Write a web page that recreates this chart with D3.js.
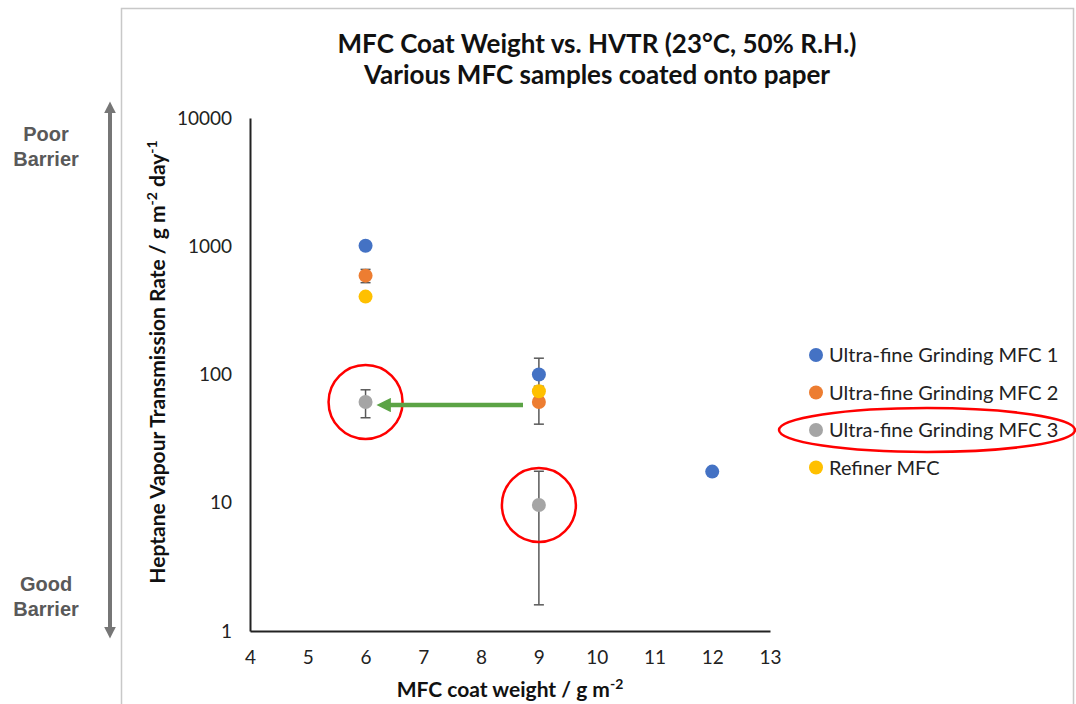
<!DOCTYPE html>
<html>
<head>
<meta charset="utf-8">
<script src="https://cdn.jsdelivr.net/npm/d3@7"></script>
<style>
  body { margin: 0; background: #fff; }
  svg { display: block; }
  .tick text { font-family: Lato, "Open Sans", sans-serif; font-size: 19px; fill: #222; }
</style>
</head>
<body>
<div id="chart"></div>
<script>
// Series names and colours
var seriesNames = ["Ultra-fine Grinding MFC 1", "Ultra-fine Grinding MFC 2", "Ultra-fine Grinding MFC 3", "Refiner MFC"]
var seriesColors = ["#4472C4", "#ED7D31", "#A5A5A5", "#FFC000"]

// Points: coat weight, HVTR, error (+/-)
var mfc1 = [{x: 6, y: 1010, err: 0}, {x: 9, y: 100, err: 34}, {x: 12, y: 17.5, err: 0}]
var mfc2 = [{x: 6, y: 590, err: 70}, {x: 9, y: 61, err: 20}]
var mfc3 = [{x: 6, y: 61, err: 15}, {x: 9, y: 9.6, err: 8}]
var refiner = [{x: 6, y: 405, err: 0}, {x: 9, y: 74, err: 0}]

var xTicks = [4, 5, 6, 7, 8, 9, 10, 11, 12, 13]
var yTicks = [1, 10, 100, 1000, 10000]

var W = 1076, H = 704
var margin = {left: 250, right: 306, top: 118, bottom: 73}

var svg = d3.select("#chart").append("svg")
  .attr("width", W)
  .attr("height", H)

// Frame of the chart area
svg.append("path")
  .attr("d", "M121.5,704 V8.5 H1073.5 V704")
  .attr("fill", "none")
  .attr("stroke", "#c8c8c8")
  .attr("stroke-width", 1.5)

// Scales
var xScale = d3.scaleLinear().domain([4, 13]).range([margin.left, W - margin.right])
var yScale = d3.scaleLog().domain([1, 10000]).range([H - margin.bottom, margin.top])

// Axes
var xAxis = svg.append("g")
  .attr("transform", `translate(0,${H - margin.bottom})`)
  .call(d3.axisBottom(xScale).tickValues(xTicks).tickSize(0).tickPadding(20).tickFormat(d3.format("d")))
xAxis.select(".domain").attr("stroke", "#222").attr("stroke-width", 2)

var yAxis = svg.append("g")
  .attr("transform", `translate(${margin.left},0)`)
  .call(d3.axisLeft(yScale).tickValues(yTicks).tickSize(0).tickPadding(18).tickFormat(d3.format("d")))
yAxis.select(".domain").attr("stroke", "#222").attr("stroke-width", 2)

// Titles
var titleFont = "Lato, 'Open Sans', sans-serif"
svg.append("text")
  .attr("x", 597).attr("y", 53)
  .attr("text-anchor", "middle")
  .attr("font-family", titleFont).attr("font-weight", "bold").attr("font-size", 26)
  .attr("fill", "#111")
  .text("MFC Coat Weight vs. HVTR (23°C, 50% R.H.)")
svg.append("text")
  .attr("x", 597).attr("y", 84)
  .attr("text-anchor", "middle")
  .attr("font-family", titleFont).attr("font-weight", "bold").attr("font-size", 26)
  .attr("fill", "#111")
  .text("Various MFC samples coated onto paper")

var xLabel = svg.append("text")
  .attr("x", 510).attr("y", 697)
  .attr("text-anchor", "middle")
  .attr("font-family", titleFont).attr("font-weight", "bold").attr("font-size", 21)
  .attr("fill", "#111")
xLabel.append("tspan").text("MFC coat weight / g m")
xLabel.append("tspan").attr("dy", -8).attr("font-size", 14).text("-2")

var yLabel = svg.append("text")
  .attr("transform", "translate(165,362) rotate(-90)")
  .attr("text-anchor", "middle")
  .attr("font-family", titleFont).attr("font-weight", "bold").attr("font-size", 21)
  .attr("fill", "#111")
yLabel.append("tspan").text("Heptane Vapour Transmission Rate / g m")
yLabel.append("tspan").attr("dy", -8).attr("font-size", 14).text("-2")
yLabel.append("tspan").attr("dy", 8).text(" day")
yLabel.append("tspan").attr("dy", -8).attr("font-size", 14).text("-1")

// Error bars and points
var allSeries = [mfc1, mfc2, mfc3, refiner]
var plot = svg.append("g").attr("class", "plot")

allSeries.forEach(function(data) {
  var errs = data.filter(d => d.err > 0)
  var eg = plot.append("g").selectAll("g").data(errs).enter().append("g")
    .attr("stroke", "#595959").attr("stroke-width", 1.5)
  eg.append("line")
    .attr("x1", d => xScale(d.x)).attr("x2", d => xScale(d.x))
    .attr("y1", d => yScale(d.y + d.err)).attr("y2", d => yScale(d.y - d.err))
  eg.append("line")
    .attr("x1", d => xScale(d.x) - 5).attr("x2", d => xScale(d.x) + 5)
    .attr("y1", d => yScale(d.y + d.err)).attr("y2", d => yScale(d.y + d.err))
  eg.append("line")
    .attr("x1", d => xScale(d.x) - 5).attr("x2", d => xScale(d.x) + 5)
    .attr("y1", d => yScale(d.y - d.err)).attr("y2", d => yScale(d.y - d.err))
})

allSeries.forEach(function(data, i) {
  plot.append("g").selectAll("circle").data(data).enter().append("circle")
    .attr("cx", d => xScale(d.x))
    .attr("cy", d => yScale(d.y))
    .attr("r", 7)
    .attr("fill", seriesColors[i])
})

// Legend
var legend = svg.append("g").attr("transform", "translate(816,355)")
var items = legend.selectAll("g").data(seriesNames).enter().append("g")
  .attr("transform", (d, i) => `translate(0,${i * 37.5})`)
items.append("circle").attr("r", 7).attr("fill", (d, i) => seriesColors[i])
items.append("text")
  .attr("x", 13).attr("y", 7)
  .attr("font-family", titleFont).attr("font-size", 20)
  .attr("fill", "#222")
  .text(d => d)

// Annotations: red circles, green arrow, legend ellipse
var red = "#FF0000"
plot.append("circle")
  .attr("cx", xScale(mfc3[0].x)).attr("cy", yScale(mfc3[0].y)).attr("r", 37)
  .attr("fill", "none").attr("stroke", red).attr("stroke-width", 2.5)
plot.append("circle")
  .attr("cx", xScale(mfc3[1].x)).attr("cy", yScale(mfc3[1].y)).attr("r", 37)
  .attr("fill", "none").attr("stroke", red).attr("stroke-width", 2.5)
svg.append("ellipse")
  .attr("cx", 927).attr("cy", 430).attr("rx", 148).attr("ry", 22)
  .attr("fill", "none").attr("stroke", red).attr("stroke-width", 2.5)

var defs = svg.append("defs")
defs.append("marker")
  .attr("id", "greenHead")
  .attr("viewBox", "0 0 10 10")
  .attr("refX", 2).attr("refY", 5)
  .attr("markerWidth", 3.2).attr("markerHeight", 3.2)
  .attr("orient", "auto")
  .append("path").attr("d", "M0,0 L10,5 L0,10 Z").attr("fill", "#5BA345")
defs.append("marker")
  .attr("id", "grayHead")
  .attr("viewBox", "0 0 10 10")
  .attr("refX", 2).attr("refY", 5)
  .attr("markerWidth", 3).attr("markerHeight", 3)
  .attr("orient", "auto-start-reverse")
  .append("path").attr("d", "M0,0 L10,5 L0,10 Z").attr("fill", "#767676")

var arrowY = yScale(mfc3[0].y) + 3
svg.append("line")
  .attr("x1", 523).attr("x2", 388)
  .attr("y1", arrowY).attr("y2", arrowY)
  .attr("stroke", "#5BA345").attr("stroke-width", 4.5)
  .attr("marker-end", "url(#greenHead)")

// Barrier scale arrow on the left
svg.append("line")
  .attr("x1", 110).attr("x2", 110)
  .attr("y1", 111).attr("y2", 629)
  .attr("stroke", "#767676").attr("stroke-width", 4)
  .attr("marker-start", "url(#grayHead)")
  .attr("marker-end", "url(#grayHead)")

var sideFont = "'Liberation Sans', Arial, sans-serif"
var sideLabels = [["Poor", 141], ["Barrier", 166], ["Good", 591], ["Barrier", 616]]
svg.append("g").selectAll("text").data(sideLabels).enter().append("text")
  .attr("x", 46).attr("y", d => d[1])
  .attr("text-anchor", "middle")
  .attr("font-family", sideFont).attr("font-weight", "bold").attr("font-size", 20)
  .attr("fill", "#595959")
  .text(d => d[0])
</script>
</body>
</html>
